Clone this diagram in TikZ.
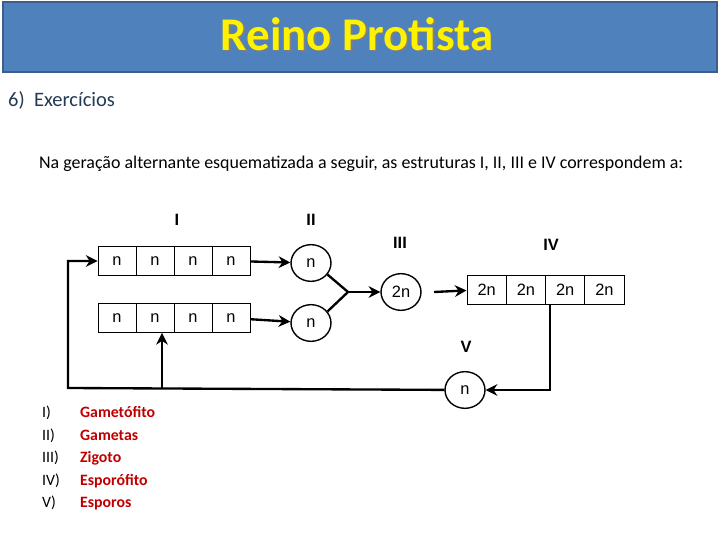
\documentclass[tikz,border=0pt]{standalone}
\usepackage{fontspec}
\setmainfont{Carlito}
\newfontfamily\arial{Liberation Sans}
\usetikzlibrary{arrows.meta, positioning, shapes.geometric}
\definecolor{headblue}{HTML}{4F81BD}
\definecolor{headedge}{HTML}{3A5F8F}
\definecolor{darkred}{HTML}{C00000}
\definecolor{slate}{HTML}{243A55}
\begin{document}
\begin{tikzpicture}[x=0.03cm, y=-0.03cm,
  cell/.style={draw, thick, minimum width=1.14cm, minimum height=0.87cm, inner sep=0pt, font=\arial\fontsize{14}{14}\selectfont},
  cell2/.style={cell, minimum width=1.18cm},
  blob/.style={ellipse, draw, line width=1.2pt, minimum width=1.2cm, minimum height=1.1cm, inner sep=0pt, font=\arial\fontsize{14}{14}\selectfont},
  roman/.style={font=\arial\bfseries\fontsize{14}{14}\selectfont},
  flow/.style={line width=2pt, -{Stealth[length=3.5mm, width=3.5mm]}},
  legend/.style={anchor=base west, font=\fontsize{13.5}{15}\selectfont}]
\useasboundingbox (0,0) rectangle (720,540);
\node (head) [draw=headedge, line width=1.5pt, fill=headblue, minimum width=21.4cm, minimum height=2.1cm] at (360,37) {};
\node (title) [text=black!50, font=\bfseries\fontsize{40}{40}\selectfont] at (358.5,35.5) {Reino Protista};
\node [text=yellow, font=\bfseries\fontsize{40}{40}\selectfont] at (357,34) {Reino Protista};
\node (ex) [anchor=west, text=slate, font=\fontsize{17.5}{17.5}\selectfont] at (4,100) {6)\ \ Exercícios};
\node (question) [anchor=west, font=\fontsize{15.3}{15.3}\selectfont] at (35,164)
  {Na geração alternante esquematizada a seguir, as estruturas I, II, III e IV correspondem a:};
% gametophytes and sporophyte
\foreach \i in {1,...,4} {
  \node (t\i) [cell] at (98+38*\i-19,261) {n};
  \node (b\i) [cell] at (98+38*\i-19,318) {n};
  \node (s\i) [cell2] at (467+39.25*\i-19.6,289.5) {2n};
}
\node (g1) [blob] at (311,263) {n};
\node (g2) [blob] at (311,323) {n};
\node (zig) [blob] at (401,292) {2n};
\node (esp) [blob] at (465,390) {n};
\coordinate (join) at (348,292);
\coordinate (corner) at (550,388);
\coordinate (left) at (68,388);
\coordinate (branch) at (162,388);
% labels
\node (lI) [roman] at (177,220) {I};
\node (lII) [roman] at (311,220) {II};
\node (lIII) [roman] at (400,243) {III};
\node (lIV) [roman] at (551,245) {IV};
\node (lV) [roman] at (466,347) {V};
% cycle
\draw [flow] (t4) -- (g1);
\draw [flow] (b4) -- (g2);
\draw [line width=2pt] (g1.-35) -- (join) -- (g2.35);
\draw [flow] (join) -- (zig);
\draw [flow] (434,292) -- (s1);
\draw [flow] (s3.south -| corner) |- (esp);
\draw [flow] (esp) -- (left) |- (t1);
\draw [flow] (branch) -- (branch |- b2.south);
% legend
\foreach \r/\t [count=\k] in {I)/Gametófito, II)/Gametas, III)/Zigoto, IV)/Esporófito, V)/Esporos} {
  \node (r\k) [legend] at (38,395+22.5*\k) {\r};
  \node (w\k) [legend, text=darkred, font=\bfseries\fontsize{13.5}{15}\selectfont] at (76,395+22.5*\k) {\t};
}
\end{tikzpicture}
\end{document}
